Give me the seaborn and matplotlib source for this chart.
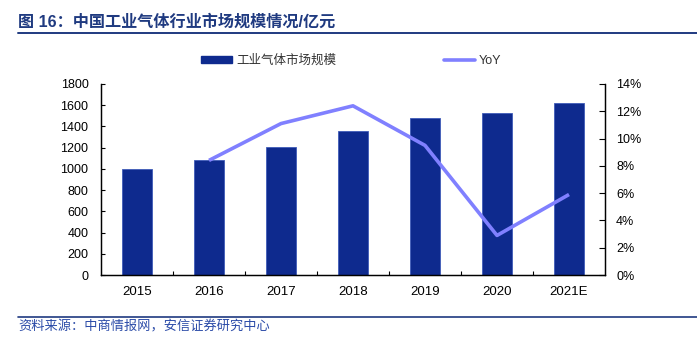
import numpy as np
import pandas as pd
import matplotlib
matplotlib.use("Agg")
import matplotlib.pyplot as plt
import seaborn as sns
from matplotlib.patches import Patch
from matplotlib.lines import Line2D

years = ["2015", "2016", "2017", "2018", "2019", "2020", "2021E"]
market_size = [1003, 1081, 1209, 1356, 1479, 1526, 1618]
yoy = [np.nan, 8.4, 11.1, 12.4, 9.5, 2.9, 5.9]
left_ticks = [0, 200, 400, 600, 800, 1000, 1200, 1400, 1600, 1800]
right_ticks = [0, 2, 4, 6, 8, 10, 12, 14]

title = "图 16：中国工业气体行业市场规模情况/亿元"
source = "资料来源：中商情报网，安信证券研究中心"
bar_label = "工业气体市场规模"
line_label = "YoY"

sns.set_theme(style="white")
plt.rcParams['font.family'] = ['Liberation Sans', 'Noto Sans CJK SC', 'DejaVu Sans']

BAR = "#0E2A8E"
LINE = "#8080FF"
NAVY = "#1F3A80"

df = pd.DataFrame({"year": years, "size": market_size, "yoy": yoy})

fig = plt.figure(figsize=(6.97, 3.43), dpi=100)
ax = fig.add_axes([101/697, 1-275/343, (605-101)/697, (275-84)/343])

sns.barplot(data=df, x="year", y="size", ax=ax, color=BAR, width=0.43,
            saturation=1, edgecolor="#3F5BB8", linewidth=0.6)
ax.set_xlim(-0.5, len(years) - 0.5)
ax.set_ylim(0, 1800)
ax.set_yticks(left_ticks)
ax.set_yticklabels([str(t) for t in left_ticks])
ax.set_xlabel("")
ax.set_ylabel("")
ax.set_xticks(np.arange(len(years)))
ax.set_xticklabels(years)
ax.set_xticks(np.arange(len(years) - 1) + 0.5, minor=True)
ax.tick_params(axis="x", which="major", length=0, pad=8, labelsize=9.5, labelcolor="black")
ax.tick_params(axis="x", which="minor", direction="in", length=3, width=0.8, color="black", bottom=True)
ax.tick_params(axis="y", direction="in", length=3, width=0.8, color="black", left=True,
               pad=9, labelsize=9, labelcolor="black")

ax2 = ax.twinx()
pos = np.arange(len(years))
sns.lineplot(x=pos, y=df["yoy"].values, ax=ax2, color=LINE, linewidth=2.6,
             solid_capstyle="butt")
ax2.set_ylim(0, 14)
ax2.set_yticks(right_ticks)
ax2.set_yticklabels([f"{t}%" for t in right_ticks])
ax2.tick_params(axis="y", direction="in", length=4, width=0.8, color="black", right=True,
                pad=8, labelsize=9, labelcolor="black")
ax2.set_xlim(-0.5, len(years) - 0.5)

for a in (ax, ax2):
    a.spines["top"].set_visible(False)
    for s in ("left", "right", "bottom"):
        a.spines[s].set_color("black")
        a.spines[s].set_linewidth(0.9)
    a.grid(False)

# legend
handles = [Patch(facecolor=BAR, edgecolor=BAR), Line2D([0], [0], color=LINE, lw=2.6)]
fig.legend(handles, [bar_label, line_label], loc="center left",
           bbox_to_anchor=(201/697, 1-61/343), ncol=2, frameon=False,
           fontsize=9, handlelength=2.5, handleheight=0.55, handletextpad=0.3,
           columnspacing=8.6, borderpad=0, borderaxespad=0, labelcolor="#333333")

# title and source
fig.text(18/697, 1-22/343, title, fontsize=11.6, fontweight="bold", color=NAVY,
         ha="left", va="center")
fig.add_artist(Line2D([18/697, 1.0], [1-33/343, 1-33/343], color=NAVY, lw=1.4,
                      transform=fig.transFigure))
fig.add_artist(Line2D([18/697, 1.0], [1-317/343, 1-317/343], color=NAVY, lw=1.2,
                      transform=fig.transFigure))
fig.text(18/697, 1-327/343, source, fontsize=9.5, color="#2B4BA8",
         ha="left", va="center", style="italic")

fig.savefig("out.png", dpi=100)
